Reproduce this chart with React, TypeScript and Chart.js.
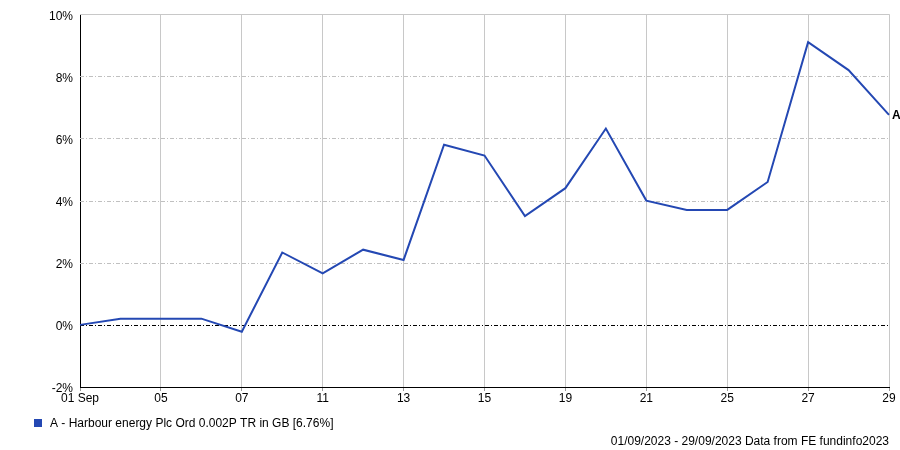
import React, { useEffect, useRef } from "react";
import { Chart, registerables } from "chart.js";

Chart.register(...registerables);

const days = ["01", "04", "05", "06", "07", "08", "11", "12", "13", "14", "15", "18", "19", "20", "21", "22", "25", "26", "27", "28", "29"];
const values = [0, 0.2, 0.2, 0.2, -0.22, 2.33, 1.66, 2.42, 2.09, 5.8, 5.45, 3.5, 4.4, 6.32, 4.0, 3.7, 3.7, 4.6, 9.1, 8.2, 6.76];
const yTicks = [-2, 0, 2, 4, 6, 8, 10];
const seriesName = "A - Harbour energy Plc Ord 0.002P TR in GB [6.76%]";
const footer = "01/09/2023 - 29/09/2023 Data from FE fundinfo2023";
const FAMILY = "'Liberation Sans', Arial, sans-serif";
const FONT = "12px " + FAMILY;
const LINE = "#2448b3";

export default function App() {
  const ref = useRef<HTMLCanvasElement>(null);
  useEffect(() => {
    const canvas = ref.current!;
    const overlay = {
      id: "overlay",
      beforeDatasetsDraw(chart: any) {
        const ctx = chart.ctx;
        const { left, right } = chart.chartArea;
        const y = chart.scales.y;
        ctx.save();
        ctx.lineWidth = 1;
        for (const v of yTicks) {
          const py = Math.round(y.getPixelForValue(v)) + 0.5;
          if (v === 10) {
            ctx.setLineDash([]);
            ctx.strokeStyle = "#c8c8c8";
          } else if (v === 0) {
            ctx.setLineDash([4, 2, 1, 2]);
            ctx.strokeStyle = "#000";
          } else if (v === -2) {
            continue;
          } else {
            ctx.setLineDash([4, 2, 1, 2]);
            ctx.strokeStyle = "#c0c0c0";
          }
          ctx.beginPath();
          ctx.moveTo(left, py);
          ctx.lineTo(right, py);
          ctx.stroke();
        }
        ctx.restore();
      },
      afterDraw(chart: any) {
        const ctx = chart.ctx;
        const meta = chart.getDatasetMeta(0);
        const last = meta.data[meta.data.length - 1];
        ctx.save();
        ctx.font = "bold 12px " + FAMILY;
        ctx.fillStyle = "#000";
        ctx.textBaseline = "middle";
        ctx.textAlign = "left";
        ctx.fillText("A", last.x + 3, last.y + 1);
        // legend
        ctx.fillStyle = LINE;
        ctx.fillRect(34, 419, 8, 8);
        ctx.font = FONT;
        ctx.fillStyle = "#000";
        ctx.fillText(seriesName, 50, 424);
        ctx.textAlign = "right";
        ctx.fillText(footer, 889, 442);
        ctx.restore();
      },
    };
    const chart = new Chart(canvas, {
      type: "line",
      data: {
        labels: days.map((d, i) => (i === 0 ? d + " Sep" : d)),
        datasets: [
          {
            data: values,
            borderColor: LINE,
            borderWidth: 2,
            pointRadius: 0,
            tension: 0,
            fill: false,
          },
        ],
      },
      options: {
        animation: false,
        responsive: false,
        layout: { padding: { top: 14, right: 11, left: 0, bottom: 0 } },
        plugins: { legend: { display: false }, tooltip: { enabled: false } },
        scales: {
          x: {
            offset: false,
            afterFit: (s: any) => {
              s.height = 63;
            },
            border: { display: true, color: "#000", width: 1 },
            grid: {
              color: (c: any) => (c.index % 2 === 0 ? "#c8c8c8" : "rgba(0,0,0,0)"),
              tickColor: (c: any) => (c.index % 2 === 0 ? "#999" : "rgba(0,0,0,0)"),
              tickLength: 4,
              lineWidth: 1,
            },
            ticks: {
              autoSkip: false,
              maxRotation: 0,
              padding: 0,
              color: "#000",
              font: { family: FAMILY, size: 12 },
              callback: function (this: any, v: any, i: number) {
                return i % 2 === 0 ? this.getLabelForValue(v) : "";
              },
            },
          },
          y: {
            min: -2,
            max: 10,
            afterFit: (s: any) => {
              s.width = 80;
            },
            afterBuildTicks: (s: any) => {
              s.ticks = yTicks.map((v) => ({ value: v }));
            },
            border: { display: true, color: "#000", width: 1 },
            grid: { display: false, drawTicks: false },
            ticks: {
              padding: 7,
              labelOffset: 2,
              color: "#000",
              font: { family: FAMILY, size: 12 },
              callback: (v: any) => v + "%",
            },
          },
        },
      },
      plugins: [overlay],
    });
    return () => chart.destroy();
  }, []);
  return (
    <div style={{ position: "absolute", left: 0, top: 0, width: 900, height: 450 }}>
      <canvas ref={ref} width={900} height={450} style={{ display: "block" }} />
    </div>
  );
}
